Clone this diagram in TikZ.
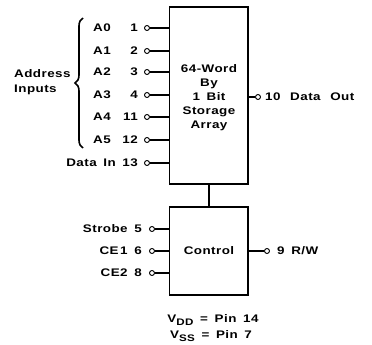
\documentclass[tikz,border=0pt]{standalone}
\usepackage{fontspec}
\setmainfont{Liberation Sans}[FakeStretch=1.22, LetterSpace=4, WordSpace=1.6]
\usetikzlibrary{decorations.pathreplacing}
\newcommand{\subtxt}[1]{\raisebox{-3pt}{\fontsize{9.5}{10}\selectfont #1}}
\begin{document}
\begin{tikzpicture}[x=1pt,y=-1pt,
  every node/.style={font=\fontsize{11}{14}\selectfont\bfseries, inner sep=0pt},
  blk/.style={draw, line width=1.2pt},
  pinc/.style={draw, circle, line width=0.9pt, minimum size=5pt, inner sep=0pt},
  wire/.style={line width=1.2pt}]
\useasboundingbox (0,0) rectangle (372,345);
% boxes
\draw[blk] (169.5,7) rectangle (248,184);
\coordinate (mtop) at (209,184);
\coordinate (mbot) at (209,207);
\node[align=center] (mem) at (209,98) {64-Word\\By\\1 Bit\\Storage\\Array};
\draw[blk] (169.5,207) rectangle (248,295);
\node (ctl) at (209,251) {Control};
\draw[wire] (mtop) -- (mbot);
% address pins
\foreach \n/\nm/\pn/\yy in {0/A0/1/28, 1/A1/2/51, 2/A2/3/72, 3/A3/4/95, 4/A4/11/117, 5/A5/12/140}{
  \node[pinc] (p\n) at (147,\yy) {};
  \coordinate (e\n) at (169.5,\yy);
  \draw[wire] (p\n) -- (e\n);
  \node[anchor=east] (pn\n) at (138,\yy) {\pn};
  \node[anchor=west] (nm\n) at (93,\yy) {\nm};
}
\node[pinc] (pdi) at (147,163) {};
\coordinate (edi) at (169.5,163);
\draw[wire] (pdi) -- (edi);
\node[anchor=east] (ldi) at (138,163) {Data In 13};
% brace
\coordinate (bt) at (83,18);
\coordinate (bb) at (83,148);
\draw[line width=1.6pt, decorate, decoration={brace, amplitude=8pt}] (bb) -- (bt);
\node[anchor=west] (addr) at (14,74) {Address};
\node[anchor=west] (inp) at (14,90) {Inputs};
% data out
\coordinate (edo) at (248,97);
\node[pinc] (pdo) at (258,97) {};
\draw[wire] (edo) -- (pdo);
\node[anchor=west] (ldo) at (265,97) {10\hspace{3pt} Data\hspace{3pt} Out};
% control pins
\foreach \n/\lab/\yy in {s/Strobe 5/229, c1/CE\hspace{1.5pt}1 6/251, c2/CE2 8/273}{
  \node[pinc] (q\n) at (152,\yy) {};
  \coordinate (f\n) at (169.5,\yy);
  \draw[wire] (q\n) -- (f\n);
  \node[anchor=east] (lq\n) at (142,\yy) {\lab};
}
% R/W
\coordinate (erw) at (248,251);
\node[pinc] (prw) at (267,251) {};
\draw[wire] (erw) -- (prw);
\node[anchor=west] (lrw) at (277,251) {9 R/W};
% supply
\node (vdd) at (213,320) {V\subtxt{DD} = Pin 14};
\node (vss) at (211,336) {V\subtxt{SS} = Pin 7};
\end{tikzpicture}
\end{document}
